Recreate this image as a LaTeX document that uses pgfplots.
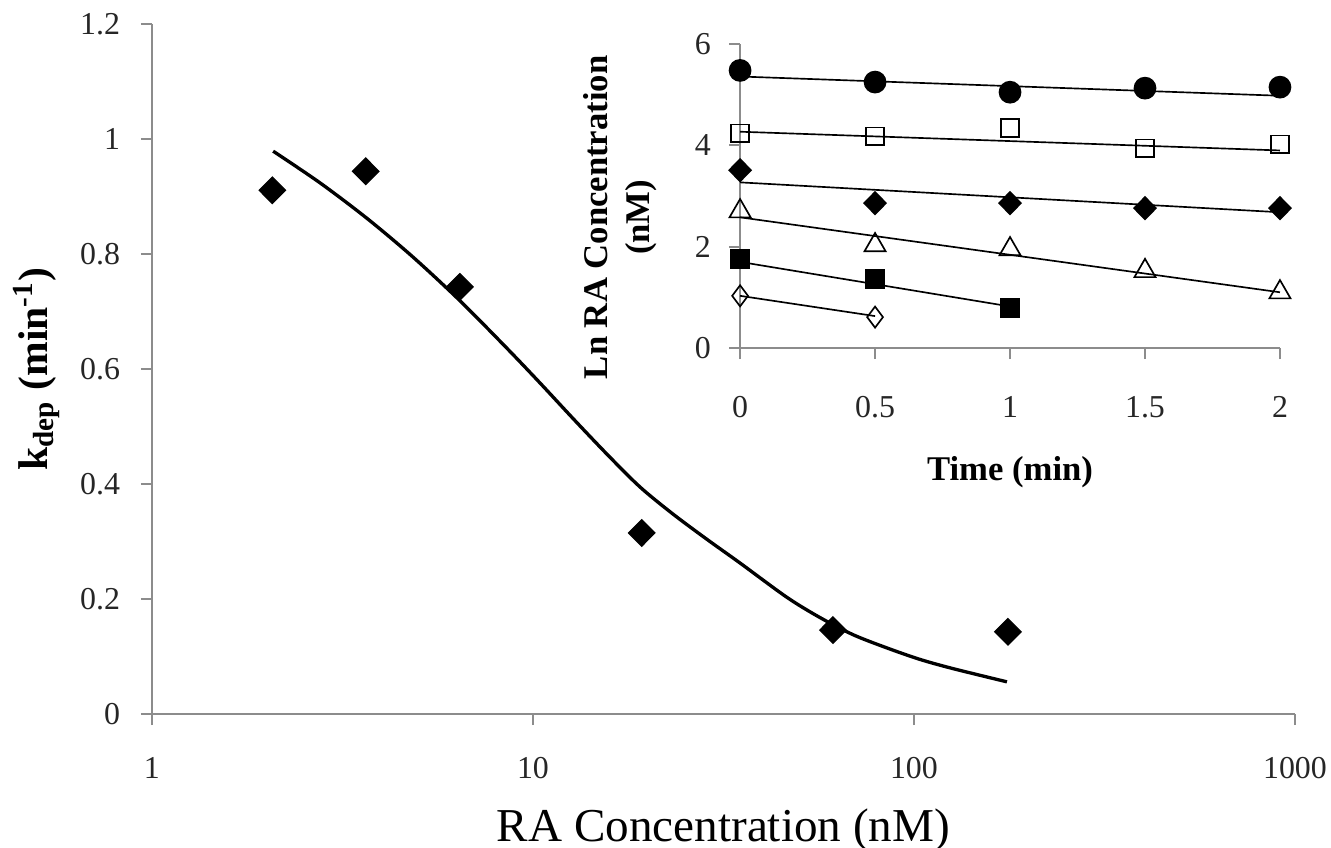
\documentclass[border=0pt]{standalone}
\usepackage{fontspec}
\setmainfont{Liberation Serif}
\usepackage{pgfplots}
\pgfplotsset{compat=1.18}

\definecolor{axisgray}{RGB}{140,140,140}

\pgfplotsset{
  chartaxis/.style={
    scale only axis,
    clip=false,
    axis lines*=left,
    axis line style={axisgray, line width=0.7pt},
    major tick style={axisgray, line width=0.7pt},
    tick align=outside,
    major tick length=4pt,
    ticklabel style={font=\fontsize{11.5}{13}\selectfont, text=black!85},
  },
}

\begin{document}
\begin{tikzpicture}
\useasboundingbox (0,0) rectangle (480pt,305.8pt);

% main plot: k_dep against RA concentration
\begin{axis}[
  chartaxis,
  at={(54.8pt,48.3pt)}, anchor=south west,
  width=412.2pt, height=248.8pt,
  xmode=log, xmin=1, xmax=1000, ymin=0, ymax=1.2,
  xtick={1,10,100,1000}, xticklabels={1,10,100,1000},
  xminorticks=false,
  ytick={0,0.2,0.4,0.6,0.8,1,1.2},
  yticklabels={0,0.2,0.4,0.6,0.8,1,1.2},
  xticklabel style={yshift=-8pt},
  yticklabel style={xshift=-4pt},
  xlabel={RA Concentration (nM)},
  xlabel style={font=\fontsize{17}{20}\selectfont, at={(axis description cs:0.5,-0.168)}, anchor=center},
  ylabel={k\textsubscript{dep} (min\textsuperscript{-1})},
  ylabel style={font=\fontsize{15}{18}\selectfont\bfseries, at={(axis description cs:-0.101,0.5)}, anchor=center},
]
\addplot[black, line width=1.2pt, smooth, no marks] coordinates {
(2.08,0.979) (2.76,0.924) (3.67,0.862) (4.84,0.795) (6.43,0.719)
(8.55,0.636) (10.43,0.576) (12.74,0.514) (15.64,0.452) (19.09,0.395)
(23.29,0.348) (28.6,0.304) (34.9,0.263) (46.4,0.203) (56.6,0.168)
(69.2,0.138) (84.9,0.115) (103.7,0.095) (126.6,0.079) (175.4,0.056)
};
\addplot[only marks, mark=diamond*, mark size=4.8pt, mark options={xscale=1.33, fill=black, draw=black}] coordinates {
(2.07,0.911) (3.64,0.944) (6.43,0.743) (19.3,0.315) (61.3,0.146) (176.5,0.143)
};
\end{axis}

% inset: Ln RA concentration against time
\begin{axis}[
  chartaxis,
  at={(266.9pt,180.3pt)}, anchor=south west,
  width=194.7pt, height=109.6pt,
  xmin=0, xmax=2, ymin=0, ymax=6,
  xtick={0,0.5,1,1.5,2}, xticklabels={0,0.5,1,1.5,2},
  ytick={0,2,4,6}, yticklabels={0,2,4,6},
  xticklabel style={yshift=-10pt},
  yticklabel style={xshift=-3pt},
  xlabel={Time (min)},
  xlabel style={font=\fontsize{12.5}{15}\selectfont\bfseries, at={(axis description cs:0.5,-0.41)}, anchor=center},
  ylabel={Ln RA Concentration\\(nM)},
  ylabel style={align=center, font=\fontsize{12.5}{15}\selectfont\bfseries, at={(axis description cs:-0.222,0.43)}, anchor=center},
  every axis plot/.append style={line width=0.6pt},
]
% fitted lines
\addplot[black, no marks] coordinates {(0,5.36) (2,4.98)};
\addplot[black, no marks] coordinates {(0,4.27) (2,3.90)};
\addplot[black, no marks] coordinates {(0,3.27) (2,2.68)};
\addplot[black, no marks] coordinates {(0,2.58) (2,1.10)};
\addplot[black, no marks] coordinates {(0,1.70) (1,0.82)};
\addplot[black, no marks] coordinates {(0,1.03) (0.5,0.63)};
% measured points
\addplot[only marks, mark=*, mark size=3.8pt, mark options={fill=black, draw=black}] coordinates {
(0,5.48) (0.5,5.25) (1,5.05) (1.5,5.13) (2,5.15)
};
\addplot[only marks, mark=square, mark size=3.2pt, mark options={fill=white, draw=black}] coordinates {
(0,4.24) (0.5,4.18) (1,4.34) (1.5,3.94) (2,4.02)
};
\addplot[only marks, mark=diamond*, mark size=4pt, mark options={xscale=1.3, fill=black, draw=black}] coordinates {
(0,3.51) (0.5,2.86) (1,2.86) (1.5,2.76) (2,2.76)
};
\addplot[only marks, mark=triangle, mark size=4.4pt, mark options={fill=white, draw=black}] coordinates {
(0,2.70) (0.5,2.03) (1,1.95) (1.5,1.52) (2,1.10)
};
\addplot[only marks, mark=square*, mark size=3.2pt, mark options={fill=black, draw=black}] coordinates {
(0,1.76) (0.5,1.36) (1,0.79)
};
\addplot[only marks, mark=diamond, mark size=3.8pt, mark options={fill=white, draw=black}] coordinates {
(0,1.03) (0.5,0.61)
};
\end{axis}
\end{tikzpicture}
\end{document}
